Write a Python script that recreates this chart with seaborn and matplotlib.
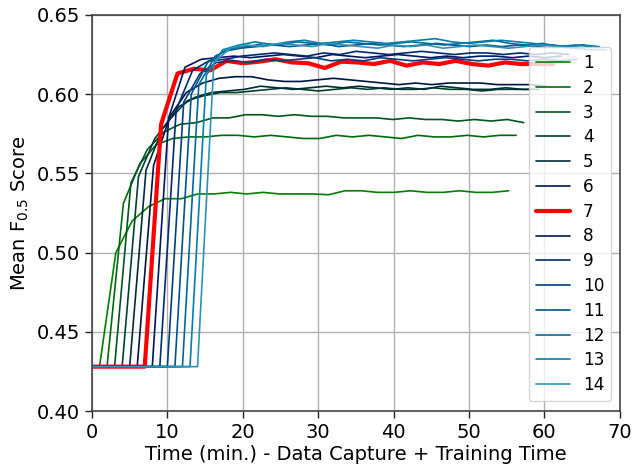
import numpy as np
import pandas as pd
import seaborn as sns
import matplotlib
matplotlib.use("Agg")
import matplotlib.pyplot as plt

# data capture time (min.) for each run, and training-time offsets of each evaluation point
capture = [1, 2, 3, 4, 5, 6, 7, 8, 9, 10, 11, 12, 13, 14]
train_time = [0.0, 2.17, 4.34, 6.51, 8.68, 10.85, 13.02, 15.19, 17.36, 19.53, 21.70, 23.87, 26.04,
              28.21, 30.38, 32.55, 34.72, 36.89, 39.06, 41.23, 43.40, 45.57, 47.74, 49.91, 52.08, 54.25]
baseline = 0.428

s1 = [0.428, 0.500, 0.520, 0.529, 0.534, 0.534, 0.537, 0.537, 0.538, 0.537, 0.538, 0.537, 0.537,
      0.537, 0.5365, 0.539, 0.539, 0.538, 0.538, 0.539, 0.538, 0.538, 0.539, 0.538, 0.538, 0.539]
s2 = [0.428, 0.531, 0.556, 0.568, 0.572, 0.573, 0.573, 0.574, 0.574, 0.573, 0.574, 0.573, 0.572,
      0.572, 0.574, 0.573, 0.574, 0.573, 0.572, 0.574, 0.573, 0.573, 0.574, 0.573, 0.574, 0.574]
s3 = [0.428, 0.544, 0.565, 0.576, 0.581, 0.582, 0.585, 0.585, 0.587, 0.587, 0.586, 0.587, 0.586,
      0.586, 0.585, 0.585, 0.585, 0.584, 0.585, 0.584, 0.584, 0.583, 0.584, 0.583, 0.584, 0.582]
s4 = [0.428, 0.548, 0.572, 0.585, 0.596, 0.599, 0.601, 0.601, 0.602, 0.603, 0.604, 0.603, 0.602,
      0.603, 0.604, 0.603, 0.604, 0.603, 0.603, 0.604, 0.603, 0.603, 0.602, 0.603, 0.603, 0.603]
s5 = [0.428, 0.552, 0.578, 0.592, 0.598, 0.601, 0.602, 0.603, 0.605, 0.604, 0.603, 0.604, 0.605,
      0.604, 0.605, 0.604, 0.603, 0.604, 0.603, 0.605, 0.604, 0.603, 0.603, 0.604, 0.603, 0.603]
s6 = [0.428, 0.555, 0.586, 0.601, 0.607, 0.610, 0.611, 0.611, 0.609, 0.608, 0.608, 0.609, 0.610,
      0.609, 0.608, 0.607, 0.606, 0.607, 0.606, 0.607, 0.607, 0.607, 0.606, 0.606, 0.606, 0.605]
s7 = [0.428, 0.581, 0.613, 0.616, 0.615, 0.621, 0.6195, 0.6205, 0.622, 0.620, 0.6195, 0.6165, 0.6205,
      0.620, 0.619, 0.621, 0.618, 0.620, 0.619, 0.621, 0.619, 0.618, 0.620, 0.619, 0.619, 0.619]
s8 = [0.428, 0.585, 0.617, 0.622, 0.623, 0.624, 0.623, 0.624, 0.625, 0.624, 0.623, 0.625, 0.624,
      0.623, 0.624, 0.625, 0.624, 0.623, 0.624, 0.623, 0.624, 0.624, 0.623, 0.624, 0.623, 0.624]
s9 = [0.428, 0.590, 0.615, 0.621, 0.622, 0.624, 0.625, 0.626, 0.625, 0.624, 0.626, 0.625, 0.627,
      0.626, 0.625, 0.626, 0.627, 0.626, 0.625, 0.626, 0.626, 0.625, 0.626, 0.625, 0.626, 0.625]
s10 = [0.428, 0.595, 0.613, 0.620, 0.621, 0.620, 0.622, 0.621, 0.622, 0.623, 0.621, 0.622, 0.621,
       0.623, 0.622, 0.621, 0.622, 0.623, 0.622, 0.621, 0.622, 0.622, 0.621, 0.622, 0.621, 0.622]
s11 = [0.428, 0.600, 0.620, 0.627, 0.629, 0.630, 0.631, 0.630, 0.631, 0.632, 0.630, 0.631, 0.632,
       0.631, 0.630, 0.631, 0.632, 0.631, 0.630, 0.631, 0.630, 0.631, 0.630, 0.631, 0.630, 0.631]
s12 = [0.428, 0.606, 0.624, 0.629, 0.630, 0.632, 0.631, 0.633, 0.632, 0.631, 0.633, 0.632, 0.631,
       0.632, 0.633, 0.632, 0.631, 0.632, 0.633, 0.634, 0.632, 0.631, 0.632, 0.630, 0.631, 0.630]
s13 = [0.428, 0.612, 0.628, 0.631, 0.633, 0.631, 0.633, 0.634, 0.632, 0.633, 0.634, 0.633, 0.632,
       0.633, 0.634, 0.635, 0.633, 0.632, 0.633, 0.634, 0.633, 0.632, 0.631, 0.630, 0.631, 0.630]
s14 = [0.428, 0.620, 0.629, 0.631, 0.630, 0.632, 0.631, 0.630, 0.632, 0.631, 0.630, 0.629, 0.631,
       0.630, 0.631, 0.629, 0.630, 0.631, 0.630, 0.629, 0.630, 0.631, 0.630, 0.629, 0.628, 0.628]
series = [s1, s2, s3, s4, s5, s6, s7, s8, s9, s10, s11, s12, s13, s14]
highlight = 7

sns.set_style("whitegrid", {
    "axes.edgecolor": "#444444",
    "grid.color": "#b0b0b0",
    "xtick.bottom": True,
    "ytick.left": True,
    "xtick.color": "#222222",
    "ytick.color": "#222222",
    "text.color": "black",
    "axes.labelcolor": "black",
})
plt.rcParams["font.family"] = ["DejaVu Sans"]

fig = plt.figure(figsize=(6.43, 4.66), dpi=100)
ax = fig.add_axes([0.143, 0.118, 0.821, 0.850])

colors = plt.cm.ocean(np.linspace(0, 0.72, len(capture)))
for cap, vals, col in zip(capture, series, colors):
    df = pd.DataFrame({
        "time": [0.0] + [cap + t for t in train_time],
        "score": [baseline] + vals,
    })
    if cap == highlight:
        sns.lineplot(data=df, x="time", y="score", ax=ax, color="red", lw=3, label=str(cap))
    else:
        sns.lineplot(data=df, x="time", y="score", ax=ax, color=col, lw=1.2, label=str(cap))

ax.set_xlim(0, 70)
ax.set_ylim(0.40, 0.65)
ax.set_xticks(range(0, 71, 10))
ax.set_yticks([0.40, 0.45, 0.50, 0.55, 0.60, 0.65])
ax.set_yticklabels(["0.40", "0.45", "0.50", "0.55", "0.60", "0.65"])
ax.tick_params(labelsize=14, length=5, width=1, labelcolor="black")
for sp in ax.spines.values():
    sp.set_linewidth(1.2)
ax.grid(True, lw=1)
ax.set_xlabel("Time (min.) - Data Capture + Training Time", fontsize=14, labelpad=2)
ax.set_ylabel(r"Mean F$_{0.5}$ Score", fontsize=14)
leg = ax.legend(loc="center right", bbox_to_anchor=(1.0, 0.472), fontsize=12.2,
                frameon=True, framealpha=0.8, labelspacing=0.4)
for t in leg.get_texts():
    t.set_color("black")

fig.savefig("out.png", dpi=100)
